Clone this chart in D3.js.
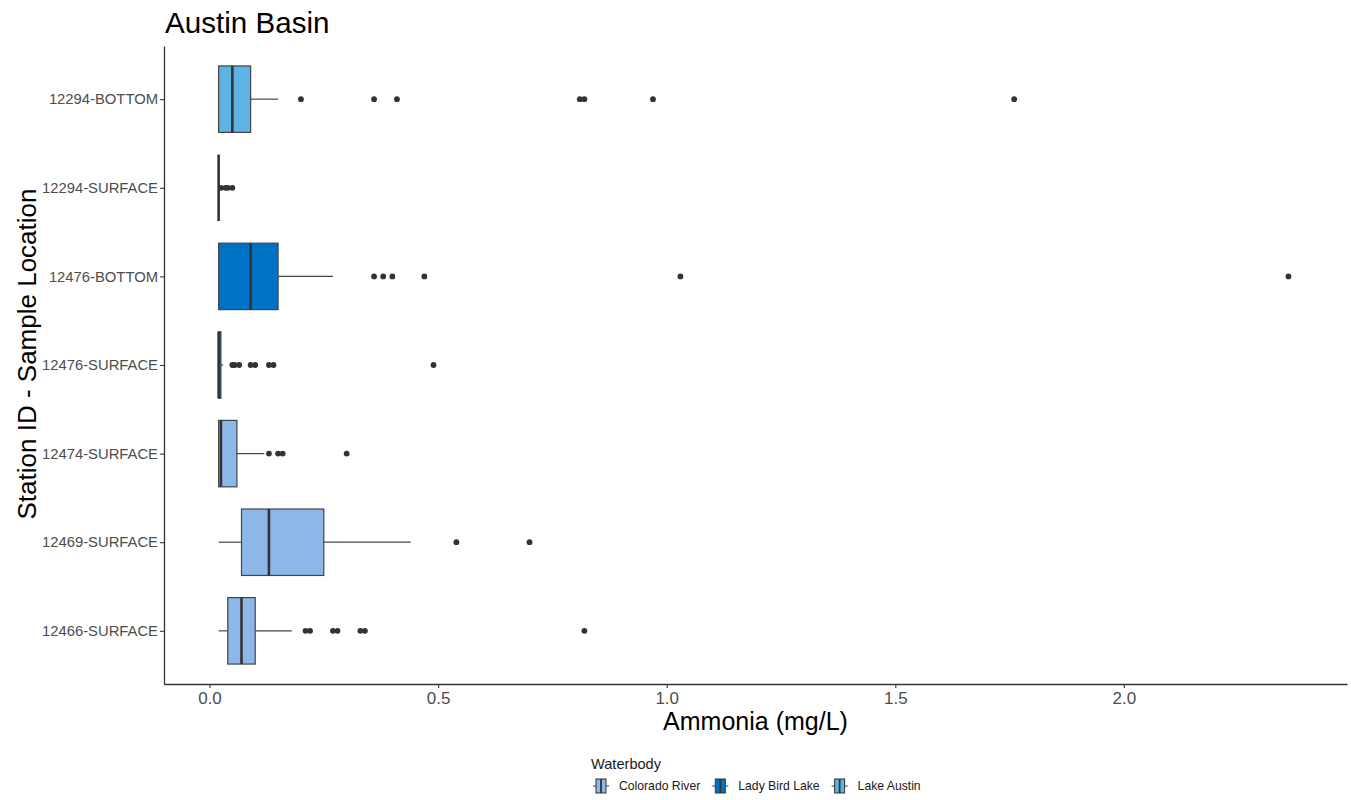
<!DOCTYPE html>
<html>
<head>
<meta charset="utf-8">
<script src="https://cdn.jsdelivr.net/npm/d3@7"></script>
<style>
  html, body { margin: 0; padding: 0; background: #fff; }
  svg { display: block; font-family: "Liberation Sans", Arial, sans-serif; }
</style>
</head>
<body>
<svg id="chart" width="1351" height="800"></svg>
<script>
// ---- data ----
const categories = ["12294-BOTTOM", "12294-SURFACE", "12476-BOTTOM", "12476-SURFACE", "12474-SURFACE", "12469-SURFACE", "12466-SURFACE"];
const waterbody  = ["Lake Austin", "Lake Austin", "Lady Bird Lake", "Lady Bird Lake", "Colorado River", "Colorado River", "Colorado River"];
const whiskerLow = [0.02, 0.02, 0.02, 0.02, 0.02, 0.02, 0.02];
const q1         = [0.02, 0.02, 0.02, 0.02, 0.02, 0.07, 0.04];
const medians    = [0.05, 0.02, 0.09, 0.02, 0.025, 0.13, 0.07];
const q3         = [0.09, 0.02, 0.15, 0.025, 0.06, 0.25, 0.10];
const whiskerHigh= [0.15, 0.02, 0.27, 0.03, 0.12, 0.44, 0.18];
const outliers = [
  [0.20, 0.36, 0.41, 0.81, 0.82, 0.97, 1.76],
  [0.025, 0.035, 0.04, 0.05],
  [0.36, 0.38, 0.40, 0.47, 1.03, 2.36],
  [0.05, 0.055, 0.065, 0.09, 0.10, 0.13, 0.14, 0.49],
  [0.13, 0.15, 0.16, 0.30],
  [0.54, 0.70],
  [0.21, 0.22, 0.27, 0.28, 0.33, 0.34, 0.82]
];
const waterbodies = ["Colorado River", "Lady Bird Lake", "Lake Austin"];
const waterColors = ["#8DB7E9", "#0072C6", "#5EB3E4"];
const xTicks = [0, 0.5, 1.0, 1.5, 2.0];
const xDomain = [-0.0995, 2.488];

// ---- layout ----
const svg = d3.select("#chart");
const panel = { left: 164, right: 1347, top: 46, bottom: 684 };
const ink = "#333333";
const font = "Liberation Sans, Arial, sans-serif";

const x = d3.scaleLinear().domain(xDomain).range([panel.left, panel.right]);
const y = d3.scalePoint().domain(categories).range([panel.top, panel.bottom]).padding(0.6);
const color = d3.scaleOrdinal().domain(waterbodies).range(waterColors);
const halfH = y.step() * 0.375;

const rows = categories.map((c, i) => ({
  cat: c, wb: waterbody[i], lo: whiskerLow[i], q1: q1[i], med: medians[i],
  q3: q3[i], hi: whiskerHigh[i], out: outliers[i]
}));

// ---- boxes ----
const g = svg.append("g");
const rowG = g.selectAll("g.row").data(rows).join("g").attr("class", "row");

rowG.append("line")
  .attr("x1", d => x(d.lo)).attr("x2", d => x(d.q1))
  .attr("y1", d => y(d.cat)).attr("y2", d => y(d.cat))
  .attr("stroke", "#444").attr("stroke-width", 1.2);
rowG.append("line")
  .attr("x1", d => x(d.q3)).attr("x2", d => x(d.hi))
  .attr("y1", d => y(d.cat)).attr("y2", d => y(d.cat))
  .attr("stroke", "#444").attr("stroke-width", 1.2);
rowG.append("rect")
  .attr("x", d => x(d.q1)).attr("width", d => x(d.q3) - x(d.q1))
  .attr("y", d => y(d.cat) - halfH).attr("height", halfH * 2)
  .attr("fill", d => color(d.wb))
  .attr("stroke", "#444").attr("stroke-width", 1.2);
rowG.append("line")
  .attr("x1", d => x(d.med)).attr("x2", d => x(d.med))
  .attr("y1", d => y(d.cat) - halfH).attr("y2", d => y(d.cat) + halfH)
  .attr("stroke", ink).attr("stroke-width", 2.6);
rowG.selectAll("circle").data(d => d.out.map(v => ({ v, cat: d.cat })))
  .join("circle")
  .attr("cx", d => x(d.v)).attr("cy", d => y(d.cat)).attr("r", 2.9)
  .attr("fill", ink);

// ---- axes ----
const xAxis = d3.axisBottom(x).tickValues(xTicks).tickFormat(d3.format(".1f")).tickSize(4).tickSizeOuter(0);
const xg = svg.append("g").attr("transform", `translate(0,${panel.bottom})`).call(xAxis);
xg.select(".domain").attr("stroke", ink).attr("stroke-width", 1.3);
xg.selectAll(".tick line").attr("stroke", ink).attr("stroke-width", 1.1);
xg.selectAll(".tick text").attr("fill", "#4D4D4D").attr("font-size", 17).attr("dy", "0.71em").attr("y", 8)
  .style("font-family", font);

const yAxis = d3.axisLeft(y).tickSize(4).tickSizeOuter(0);
const yg = svg.append("g").attr("transform", `translate(${panel.left},0)`).call(yAxis);
yg.select(".domain").attr("stroke", ink).attr("stroke-width", 1.3);
yg.selectAll(".tick line").attr("stroke", ink).attr("stroke-width", 1.1);
yg.selectAll(".tick text").attr("fill", "#4D4D4D").attr("font-size", 14.8).attr("x", -6)
  .style("font-family", font);

// ---- titles ----
svg.append("text").attr("x", 165).attr("y", 33).attr("font-size", 29.6).attr("fill", "#000")
  .text("Austin Basin");
svg.append("text").attr("x", (panel.left + panel.right) / 2).attr("y", 730)
  .attr("text-anchor", "middle").attr("font-size", 25).attr("fill", "#000")
  .text("Ammonia (mg/L)");
svg.append("text")
  .attr("transform", `translate(36,354) rotate(-90)`)
  .attr("text-anchor", "middle").attr("font-size", 26).attr("fill", "#000")
  .text("Station ID - Sample Location");

// ---- legend ----
const leg = svg.append("g");
leg.append("text").attr("x", 591).attr("y", 769).attr("font-size", 14.6).attr("fill", "#1a1a1a").text("Waterbody");
let lx = 593;
const ly = 786;
waterbodies.forEach((w, i) => {
  const k = leg.append("g").attr("transform", `translate(${lx},${ly})`);
  k.append("line").attr("x1", 0).attr("x2", 16).attr("y1", 0).attr("y2", 0).attr("stroke", ink).attr("stroke-width", 1);
  k.append("rect").attr("x", 3).attr("y", -7).attr("width", 10).attr("height", 14)
    .attr("fill", color(w)).attr("stroke", ink).attr("stroke-width", 1);
  k.append("line").attr("x1", 8).attr("x2", 8).attr("y1", -7).attr("y2", 7).attr("stroke", ink).attr("stroke-width", 1.8);
  const t = leg.append("text").attr("x", lx + 26).attr("y", 790).attr("font-size", 12.2).attr("fill", "#1a1a1a").text(w);
  lx = lx + 26 + t.node().getComputedTextLength() + 12;
});
</script>
</body>
</html>
